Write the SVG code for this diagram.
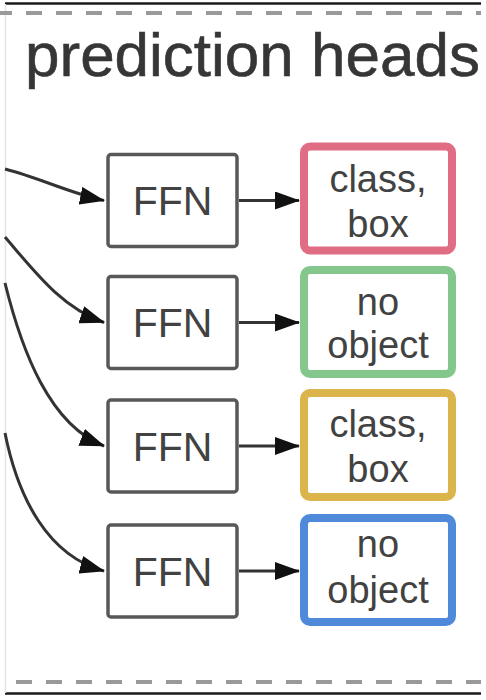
<svg xmlns="http://www.w3.org/2000/svg" width="486" height="700" viewBox="0 0 486 700">
  <style>
    .ffn { fill: #ffffff; stroke: #585858; stroke-width: 3.5; }
    .out { fill: #ffffff; stroke-width: 8; }
    .t { font-family: "Liberation Sans", Arial, sans-serif; fill: #424242; text-anchor: middle; }
    .ffnt { font-size: 41px; }
    .lbl { font-size: 38px; }
    .edge { fill: none; stroke: #333333; stroke-width: 3; }
    .dash { stroke: #9a9a9a; stroke-width: 4; stroke-dasharray: 16 14; }
  </style>
  <defs>
    <marker id="ah" viewBox="0 0 25 18" refX="24" refY="9" markerWidth="25" markerHeight="18" markerUnits="userSpaceOnUse" orient="auto">
      <path d="M0,0 L25,9 L0,18 Z" fill="#111111"/>
    </marker>
  </defs>
  <rect x="0" y="0" width="486" height="700" fill="#ffffff"/>
  <g id="frame">
    <line x1="5" y1="3.5" x2="481" y2="3.5" stroke="#1a1a1a" stroke-width="2.5"/>
    <line x1="5" y1="693.5" x2="481" y2="693.5" stroke="#1a1a1a" stroke-width="2.5"/>
    <line x1="5.5" y1="4" x2="5.5" y2="693" stroke="#e4e4e4" stroke-width="1.5"/>
    <line class="dash" x1="0" y1="13" x2="481" y2="13" stroke-dashoffset="4"/>
    <line class="dash" x1="16" y1="682" x2="481" y2="682"/>
  </g>
  <g id="title">
    <text x="25" y="76" font-family="'Liberation Sans', Arial, sans-serif" font-size="62" fill="#363636" stroke="#363636" stroke-width="0.6">prediction heads</text>
  </g>
  <g id="connectors">
    <path class="edge" marker-end="url(#ah)" d="M5,169 C 40,178 72,194 104,200.5"/>
    <path class="edge" marker-end="url(#ah)" d="M5,237 C 35,272 62,308 104,322.5"/>
    <path class="edge" marker-end="url(#ah)" d="M5,283 C 22,352 50,425 104,446"/>
    <path class="edge" marker-end="url(#ah)" d="M5,433 C 18,498 48,556 104,571"/>
    <line class="edge" marker-end="url(#ah)" x1="239" y1="200.5" x2="299" y2="200.5"/>
    <line class="edge" marker-end="url(#ah)" x1="239" y1="322.5" x2="299" y2="322.5"/>
    <line class="edge" marker-end="url(#ah)" x1="239" y1="446" x2="299" y2="446"/>
    <line class="edge" marker-end="url(#ah)" x1="239" y1="571" x2="299" y2="571"/>
  </g>
  <g id="ffn1">
    <rect class="ffn" x="108" y="154.5" width="129" height="92" rx="3"/>
    <text class="t ffnt" x="172.5" y="215">FFN</text>
  </g>
  <g id="ffn2">
    <rect class="ffn" x="108" y="276.5" width="129" height="92" rx="3"/>
    <text class="t ffnt" x="172.5" y="337">FFN</text>
  </g>
  <g id="ffn3">
    <rect class="ffn" x="108" y="400" width="129" height="92" rx="3"/>
    <text class="t ffnt" x="172.5" y="460.5">FFN</text>
  </g>
  <g id="ffn4">
    <rect class="ffn" x="108" y="525" width="129" height="92" rx="3"/>
    <text class="t ffnt" x="172.5" y="585.5">FFN</text>
  </g>
  <g id="out1">
    <rect class="out" x="304" y="146.5" width="148" height="104" rx="6" stroke="#e06d84"/>
    <text class="t lbl" x="378" y="192">class,</text>
    <text class="t lbl" x="378" y="237">box</text>
  </g>
  <g id="out2">
    <rect class="out" x="304" y="270" width="148" height="104" rx="6" stroke="#84c78c"/>
    <text class="t lbl" x="378" y="315">no</text>
    <text class="t lbl" x="378" y="358">object</text>
  </g>
  <g id="out3">
    <rect class="out" x="304" y="393" width="148" height="104" rx="6" stroke="#dbb54c"/>
    <text class="t lbl" x="378" y="437">class,</text>
    <text class="t lbl" x="378" y="482">box</text>
  </g>
  <g id="out4">
    <rect class="out" x="304" y="518" width="148" height="104" rx="6" stroke="#4f8ada"/>
    <text class="t lbl" x="378" y="557">no</text>
    <text class="t lbl" x="378" y="603">object</text>
  </g>
</svg>
